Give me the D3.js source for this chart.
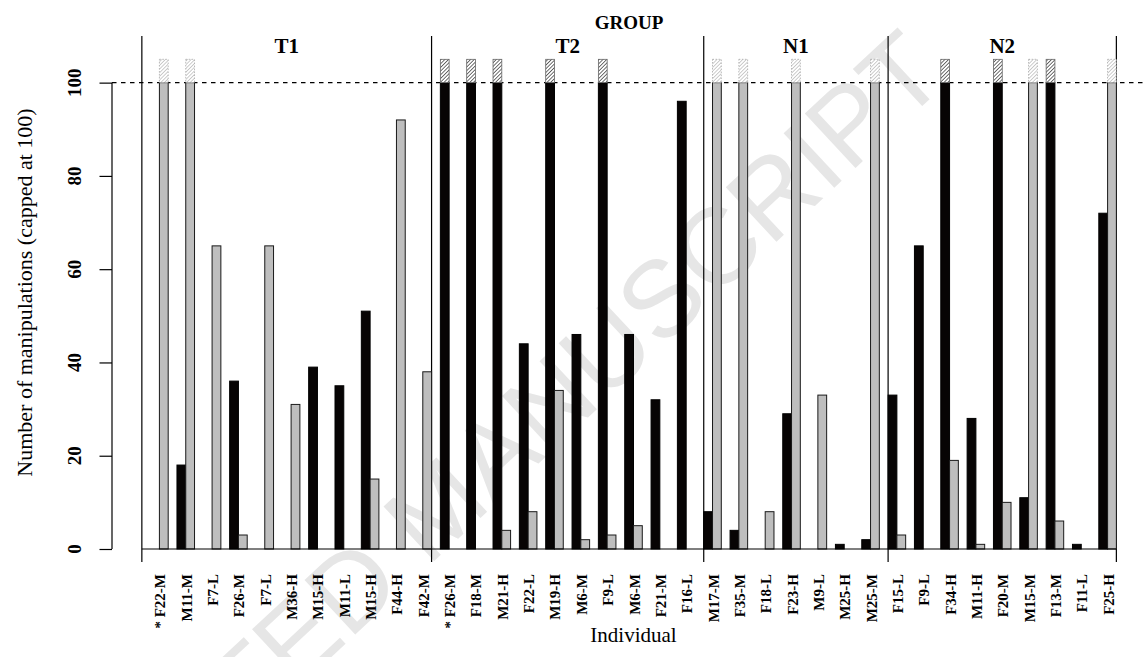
<!DOCTYPE html>
<html>
<head>
<meta charset="utf-8">
<script src="https://cdn.jsdelivr.net/npm/d3@7"></script>
<style>
  html, body { margin: 0; padding: 0; background: #fff; }
  svg { display: block; }
</style>
</head>
<body>
<svg id="chart" width="1146" height="657"></svg>
<script>
// ---------------- data ----------------
const OVER = ">100"; // value exceeds the cap of 100 (true value not shown in the figure)

const groups = ["T1", "T2", "N1", "N2"];
const groupSizes = [11, 10, 7, 9];

const individuals = [
  "* F22-M", "M11-M", "F7-L", "F26-M", "F7-L", "M36-H", "M15-H", "M11-L", "M15-H", "F44-H", "F42-M",
  "* F26-M", "F18-M", "M21-H", "F22-L", "M19-H", "M6-M", "F9-L", "M6-M", "F21-M", "F16-L",
  "M17-M", "F35-M", "F18-L", "F23-H", "M9-L", "M25-H", "M25-M",
  "F15-L", "F9-L", "F34-H", "M11-H", "F20-M", "M15-M", "F13-M", "F11-L", "F25-H"
];

// black bars
const seriesBlack = [
  0, 18, 0, 36, 0, 0, 39, 35, 51, 0, 0,
  OVER, OVER, OVER, 44, OVER, 46, OVER, 46, 32, 96,
  8, 4, 0, 29, 0, 1, 2,
  33, 65, OVER, 28, OVER, 11, OVER, 1, 72
];

// grey bars
const seriesGrey = [
  OVER, OVER, 65, 3, 65, 31, 0, 0, 15, 92, 38,
  0, 0, 4, 8, 34, 2, 3, 5, 0, 0,
  OVER, OVER, 8, OVER, 33, 0, OVER,
  3, 0, 19, 1, 10, OVER, 6, 0, OVER
];

const yTicks = [0, 20, 40, 60, 80, 100];
const CAP = 100;
const HATCH_TOP = 105;
// group dividers, in bar-slot units (each individual = 1 gap + 2 bars)
const groupBoundaries = [0, 33, 64, 85, 111];

const SERIF = "'Liberation Serif', 'Times New Roman', Times, serif";

// ---------------- scales ----------------
const svg = d3.select("#chart");
const x = d3.scaleLinear().domain([-3.4, 115.4]).range([112, 1155]);
const y = d3.scaleLinear().domain([0, 110]).range([549, 36]);
const bw = x(1) - x(0);

// ---------------- defs (hatch patterns) ----------------
const defs = svg.append("defs");
function hatch(id, color, w, gap) {
  const p = defs.append("pattern")
    .attr("id", id).attr("patternUnits", "userSpaceOnUse")
    .attr("width", gap).attr("height", gap)
    .attr("patternTransform", "rotate(45)");
  p.append("rect").attr("width", gap).attr("height", gap).attr("fill", "#fff");
  p.append("line").attr("x1", 0).attr("y1", 0).attr("x2", 0).attr("y2", gap)
    .attr("stroke", color).attr("stroke-width", w);
}
hatch("hatchDark", "#222", 1.3, 2.6);
hatch("hatchLight", "#9a9a9a", 1.0, 2.6);

// ---------------- watermark ----------------
svg.append("text")
  .attr("transform", "translate(950,80) rotate(-43)")
  .attr("text-anchor", "end")
  .attr("font-family", "'Liberation Sans', Arial, sans-serif")
  .attr("font-size", 108)
  .attr("fill", "#e6e6e6")
  .text("ACCEPTED MANUSCRIPT");

// ---------------- reference line at cap ----------------
svg.append("line")
  .attr("x1", x.range()[0]).attr("x2", x.range()[1])
  .attr("y1", y(CAP)).attr("y2", y(CAP))
  .attr("stroke", "#000").attr("stroke-width", 1.1)
  .attr("stroke-dasharray", "4.5,4.5");

// ---------------- group dividers ----------------
svg.append("g").selectAll("line").data(groupBoundaries).join("line")
  .attr("x1", d => x(d)).attr("x2", d => x(d))
  .attr("y1", y(110)).attr("y2", y(0) + 13)
  .attr("stroke", "#000").attr("stroke-width", 1.2);

// ---------------- bars ----------------
const val = v => (v === OVER ? CAP : v);
const bars = [];
individuals.forEach((name, i) => {
  bars.push({ i, slot: 3 * i + 1, v: seriesBlack[i], kind: "black" });
  bars.push({ i, slot: 3 * i + 2, v: seriesGrey[i], kind: "grey" });
});

const gb = svg.append("g");
gb.selectAll("rect.bar").data(bars).join("rect")
  .attr("class", "bar")
  .attr("x", d => x(d.slot))
  .attr("width", bw)
  .attr("y", d => y(val(d.v)))
  .attr("height", d => y(0) - y(val(d.v)))
  .attr("fill", d => d.kind === "black" ? "#070404" : "#bebebe")
  .attr("stroke", d => d.kind === "black" ? "#000" : "#1a1a1a")
  .attr("stroke-width", 1);

gb.selectAll("rect.cap").data(bars.filter(d => d.v === OVER)).join("rect")
  .attr("class", "cap")
  .attr("x", d => x(d.slot))
  .attr("width", bw)
  .attr("y", y(HATCH_TOP))
  .attr("height", y(CAP) - y(HATCH_TOP))
  .attr("fill", d => d.kind === "black" ? "url(#hatchDark)" : "url(#hatchLight)")
  .attr("stroke", d => d.kind === "black" ? "#666" : "#aaa")
  .attr("stroke-width", 0.8)
  .attr("stroke-dasharray", d => d.kind === "black" ? null : "1.5,1.5");

// ---------------- x axis ----------------
svg.append("line")
  .attr("x1", x(groupBoundaries[0])).attr("x2", x(groupBoundaries[groupBoundaries.length - 1]))
  .attr("y1", y(0)).attr("y2", y(0))
  .attr("stroke", "#000").attr("stroke-width", 1.2);

svg.append("g").selectAll("text").data(individuals).join("text")
  .attr("transform", (d, i) => `translate(${x(3 * i + 2)},574) rotate(-90)`)
  .attr("text-anchor", "end")
  .attr("dy", "0.4em")
  .attr("font-family", SERIF)
  .attr("font-size", 15)
  .attr("font-weight", "bold")
  .text(d => d);

svg.append("text")
  .attr("x", (x.range()[0] + x.range()[1]) / 2)
  .attr("y", 642)
  .attr("text-anchor", "middle")
  .attr("font-family", SERIF)
  .attr("font-size", 21)
  .text("Individual");

// ---------------- y axis ----------------
const yAxis = d3.axisLeft(y).tickValues(yTicks).tickSize(12.5).tickFormat("");
const ya = svg.append("g").attr("transform", `translate(${x.range()[0]},0)`).call(yAxis);
ya.select(".domain").remove();
ya.selectAll(".tick line").attr("stroke", "#000").attr("stroke-width", 1.2);
ya.append("line")
  .attr("x1", 0).attr("x2", 0).attr("y1", y(0)).attr("y2", y(100))
  .attr("stroke", "#000").attr("stroke-width", 1.2);

svg.append("g").selectAll("text").data(yTicks).join("text")
  .attr("transform", d => `translate(81,${y(d)}) rotate(-90)`)
  .attr("text-anchor", "middle")
  .attr("font-family", SERIF)
  .attr("font-size", 19)
  .attr("font-weight", "bold")
  .text(d => d);

svg.append("text")
  .attr("transform", `translate(32,${(y(0) + y(110)) / 2}) rotate(-90)`)
  .attr("text-anchor", "middle")
  .attr("font-family", SERIF)
  .attr("font-size", 22)
  .text("Number of manipulations (capped at 100)");

// ---------------- group labels ----------------
const groupCenters = groups.map((g, k) => (x(groupBoundaries[k]) + x(groupBoundaries[k + 1])) / 2);
svg.append("g").selectAll("text").data(groups).join("text")
  .attr("x", (d, k) => groupCenters[k])
  .attr("y", 53)
  .attr("text-anchor", "middle")
  .attr("font-family", SERIF)
  .attr("font-size", 21)
  .attr("font-weight", "bold")
  .text(d => d);

svg.append("text")
  .attr("x", (x(groupBoundaries[0]) + x(groupBoundaries[groupBoundaries.length - 1])) / 2)
  .attr("y", 29)
  .attr("text-anchor", "middle")
  .attr("font-family", SERIF)
  .attr("font-size", 19)
  .attr("font-weight", "bold")
  .text("GROUP");
</script>
</body>
</html>
